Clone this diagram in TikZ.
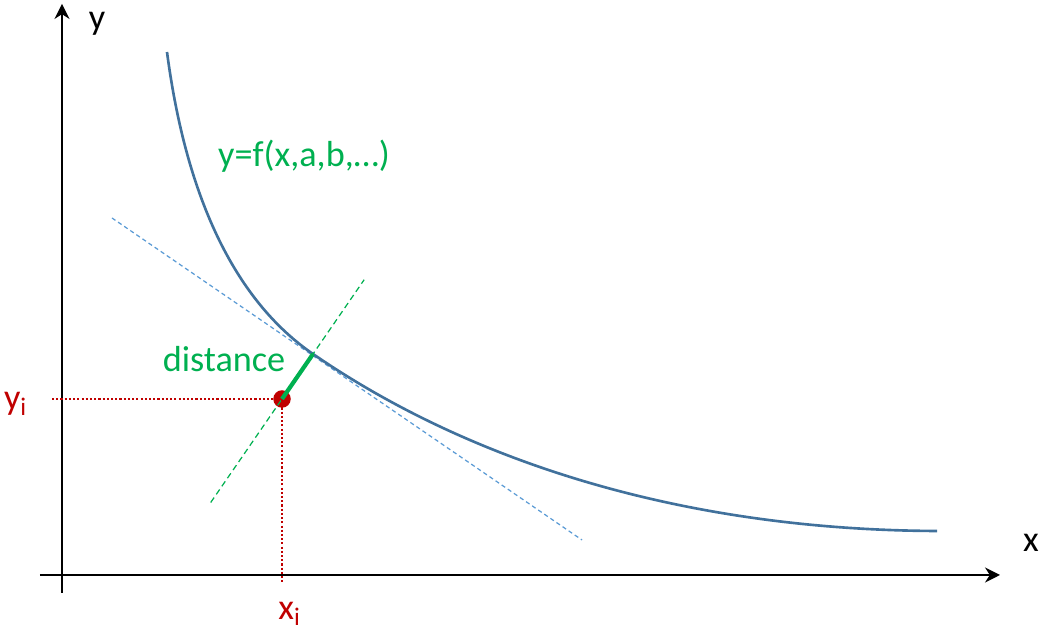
\documentclass[tikz,border=0pt]{standalone}
\usepackage{fontspec}
\setmainfont{Carlito}
\usetikzlibrary{arrows.meta,calc}
\definecolor{curveblue}{RGB}{65,113,156}
\definecolor{skyblue}{RGB}{91,155,213}
\definecolor{grass}{RGB}{0,176,80}
\definecolor{crimson}{RGB}{192,0,0}
\tikzset{
  >={Stealth[length=1.5mm,width=1.5mm]},
  axis/.style={->,line width=0.6pt,draw=black},
  fcurve/.style={draw=curveblue,line width=0.75pt},
  tangent/.style={draw=skyblue,line width=0.35pt,dash pattern=on 1.2pt off 0.9pt},
  normline/.style={draw=grass,line width=0.35pt,dash pattern=on 1.7pt off 1.1pt},
  proj/.style={draw=crimson,line width=0.7pt,dash pattern=on 0.6pt off 0.6pt},
  dot/.style={circle,fill=crimson,minimum size=1.75mm,inner sep=0pt},
  gap/.style={draw=grass,line width=1.2pt},
  tag/.style={font=\fontsize{10.3}{12}\selectfont,text=#1,inner sep=0pt,anchor=base},
  tag/.default=black,
}
\begin{document}
\begin{tikzpicture}
  \useasboundingbox (0,0) rectangle (10.42,6.30);
  % axes
  \coordinate (xstart) at (0.40,0.55);
  \coordinate (xend) at (10.00,0.55);
  \coordinate (ystart) at (0.62,0.37);
  \coordinate (yend) at (0.62,6.26);
  \draw[axis] (xstart) -- (xend);
  \draw[axis] (ystart) -- (yend);
  \node[tag] (ylab) at (0.97,6.00) {y};
  \node[tag] (xlab) at (10.31,0.78) {x};
  % model curve and foot point
  \coordinate (F) at (3.13,2.76);
  \coordinate (cstart) at (1.67,5.78);
  \coordinate (cend) at (9.37,0.99);
  \draw[tangent] (1.12,4.12) coordinate (tA) -- (5.82,0.90) coordinate (tB);
  \draw[fcurve] (cstart) .. controls (1.88,4.18) and (2.43,3.24) .. (F)
    .. controls (4.73,1.66) and (6.87,1.00) .. (cend);
  \node[tag=grass] (fx) at (3.04,4.63) {y=f(x,a,b,…)};
  % data point
  \node[dot] (P) at (2.82,2.31) {};
  \draw[normline] ($(P)!-2.3!(F)$) -- ($(P)!2.65!(F)$);
  \coordinate (yfoot) at (0.52,2.31);
  \coordinate (xfoot) at (2.82,0.47);
  \draw[proj] (yfoot) -- (P.center);
  \draw[proj] (P.center) -- (xfoot);
  \draw[gap] (P.center) -- (F);
  \node[tag=grass] (dist) at (2.24,2.58) {distance};
  \node[tag=crimson] (yi) at (0.16,2.20) {y\textsubscript{i}};
  \node[tag=crimson] (xi) at (2.90,0.10) {x\textsubscript{i}};
\end{tikzpicture}
\end{document}
